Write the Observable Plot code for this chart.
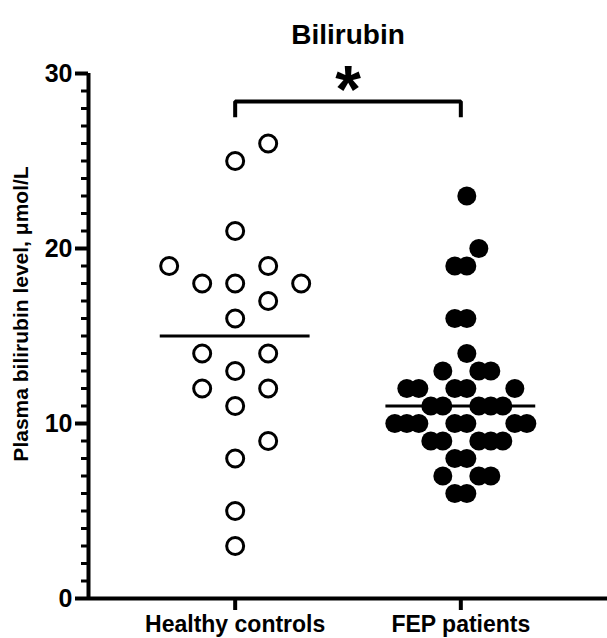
<!DOCTYPE html>
<html>
<head>
<meta charset="utf-8">
<script src="https://cdn.jsdelivr.net/npm/d3@7"></script>
<script src="https://cdn.jsdelivr.net/npm/@observablehq/plot@0.6"></script>
<style>
  html, body { margin: 0; padding: 0; background: #fff; }
  #chart { width: 607px; height: 638px; overflow: hidden; }
</style>
</head>
<body>
<div id="chart"></div>
<script>
// ---- data ----
const title = "Bilirubin";
const yLabel = "Plasma bilirubin level, μmol/L";
const groups = ["Healthy controls", "FEP patients"];
const healthy = [26, 25, 21, 19, 19, 18, 18, 18, 17, 16, 14, 14, 13, 12, 12, 11, 9, 8, 5, 3];
const fep = [23, 20, 19, 19, 16, 16, 14, 13, 13, 13, 12, 12, 12, 12, 12,
             11, 11, 11, 11, 11, 10, 10, 10, 10, 10, 10, 10, 9, 9, 9, 9, 9,
             8, 8, 7, 7, 7, 6, 6];
const yMajorTicks = [0, 10, 20, 30];
const yMinorTicks = d3.range(0, 31, 1);
const significance = "*";
const bracketLevel = 28.4;
const bracketDrop = 0.9;

// ---- layout ----
const W = 607, H = 638, mt = 73, mb = 40, ml = 88, mr = 0;
const xDomain = [0.35, 2.65], yDomain = [0, 30];
const ppuY = (H - mt - mb) / (yDomain[1] - yDomain[0]);
const ppuX = (W - ml - mr) / (xDomain[1] - xDomain[0]);

// simple scatter-dot-plot arrangement (points with equal/near values spread sideways)
function swarm(values, gi, step, half, R) {
  const sorted = values.slice().sort((a, b) => a - b);
  const cands = [];
  for (let k = 0; k < 30; k++) {
    if (half) cands.push(k + 0.5, -(k + 0.5));
    else if (k === 0) cands.push(0);
    else cands.push(k, -k);
  }
  const placed = [];
  for (const v of sorted) {
    for (const c of cands) {
      const px = c * step;
      const ok = placed.every(q => q.v === v
        ? Math.abs(q.px - px) >= step - 0.01
        : Math.hypot(q.px - px, (q.v - v) * ppuY) >= 2 * R - 0.5);
      if (ok) { placed.push({v, px}); break; }
    }
  }
  return placed.map(p => ({group: groups[gi], value: p.v, x: gi + 1 + p.px / ppuX}));
}

const hPts = swarm(healthy, 0, 33, false, 10);
const fPts = swarm(fep, 1, 12, true, 9.5);
const medians = [
  {i: 1, m: d3.median(healthy)},
  {i: 2, m: d3.median(fep)}
];
const halfWidth = 0.332;
const bracket = [
  {x: 1, y: bracketLevel - bracketDrop},
  {x: 1, y: bracketLevel},
  {x: 2, y: bracketLevel},
  {x: 2, y: bracketLevel - bracketDrop}
];

const font = "'Liberation Sans', Arial, Helvetica, sans-serif";

const chart = Plot.plot({
  width: W, height: H,
  marginTop: mt, marginBottom: mb, marginLeft: ml, marginRight: mr,
  x: {domain: xDomain, axis: null},
  y: {domain: yDomain, axis: null},
  style: {fontFamily: font, background: "#fff", color: "#000", overflow: "visible"},
  marks: [
    // y axis
    Plot.axisY({ticks: yMinorTicks, tickSize: 7, tickFormat: () => "", strokeWidth: 3, label: null}),
    Plot.axisY({ticks: yMajorTicks, tickSize: 13, tickPadding: 3, strokeWidth: 4,
      fontSize: 25, fontWeight: "bold", fill: "#000", label: null}),
    Plot.ruleX([xDomain[0]], {y1: yDomain[0], y2: yDomain[1], strokeWidth: 4, stroke: "#000"}),
    // x axis
    Plot.ruleY([yDomain[0]], {strokeWidth: 4, stroke: "#000"}),
    Plot.axisX({ticks: [1, 2], tickSize: 12, tickPadding: 5, strokeWidth: 4,
      tickFormat: i => groups[i - 1], fontSize: 23, fontWeight: "bold", fill: "#000", label: null}),
    // medians
    Plot.ruleY(medians, {y: "m", x1: d => d.i - halfWidth, x2: d => d.i + halfWidth, strokeWidth: 3, stroke: "#000"}),
    // points
    Plot.dot(hPts, {x: "x", y: "value", r: 8.5, fill: "#fff", stroke: "#000", strokeWidth: 3}),
    Plot.dot(fPts, {x: "x", y: "value", r: 9.5, fill: "#000", stroke: "none"}),
    // significance bracket
    Plot.line(bracket, {x: "x", y: "y", stroke: "#000", strokeWidth: 4, strokeLinejoin: "miter", strokeLinecap: "butt"}),
    Plot.text([significance], {x: 1.5, y: bracketLevel, dy: -11, fontSize: 66, fontWeight: "bold", fill: "#000"}),
    // title
    Plot.text([title], {frameAnchor: "top", dy: -49, fontSize: 28, fontWeight: "bold", fill: "#000"}),
    // y label
    Plot.text([yLabel], {frameAnchor: "left", textAnchor: "middle", dx: -67, dy: -22, rotate: -90,
      fontSize: 21, fontWeight: "bold", fill: "#000"})
  ]
});
document.getElementById("chart").appendChild(chart);
</script>
</body>
</html>
